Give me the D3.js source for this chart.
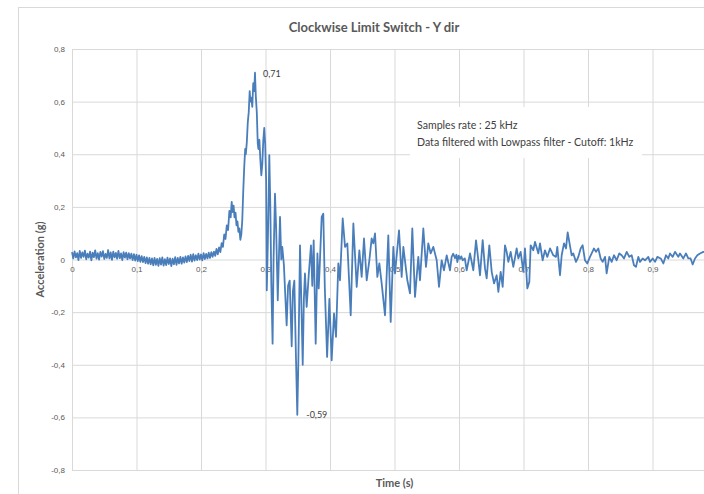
<!DOCTYPE html>
<html>
<head>
<meta charset="utf-8">
<script src="https://cdn.jsdelivr.net/npm/d3@7"></script>
<style>
  body { margin: 0; background: #fff; }
  svg { display: block; font-family: Lato, "Open Sans", sans-serif; }
  .grid line { stroke: #d9d9d9; stroke-width: 1; }
  .grid path { display: none; }
  .tick text { fill: #595959; font-size: 8px; }
  .line { fill: none; stroke: #4a7ebb; stroke-width: 1.8; stroke-linejoin: round; }
</style>
</head>
<body>
<div id="chart"></div>
<script>
// acceleration trace, Y direction
const chartTitle = "Clockwise Limit Switch - Y dir";
const xAxisTitle = "Time (s)";
const yAxisTitle = "Acceleration (g)";
const noteLines = ["Samples rate : 25 kHz", "Data filtered with Lowpass filter - Cutoff: 1kHz"];

const xGrid = [0, 0.1, 0.2, 0.3, 0.4, 0.5, 0.6, 0.7, 0.8, 0.9, 1];
const xTicks = [0, 0.1, 0.2, 0.3, 0.4, 0.5, 0.6, 0.7, 0.8, 0.9];   // "1" falls outside the window
const yTicks = [-0.8, -0.6, -0.4, -0.2, 0, 0.2, 0.4, 0.6, 0.8];

// quiet part before the switch hits, one reading every 2 ms
const quietStart = 0, quietStep = 0.002;
const quietValues = [
  0.028, 0.004, 0.031, 0.008, 0.024, -0.002, 0.033, 0.006, 0.027, 0.010,
  0.034, 0.001, 0.022, 0.007, 0.030, -0.003, 0.026, 0.009, 0.035, 0.003,
  0.024, 0.000, 0.029, 0.011, 0.032, 0.002, 0.021, 0.006, 0.036, 0.004,
  0.027, -0.001, 0.030, 0.008, 0.025, 0.003, 0.033, 0.005, 0.023, -0.002,
  0.028, 0.007, 0.026, 0.001, 0.024, 0.004,
  0.022, -0.002, 0.020, -0.004, 0.018, -0.006, 0.016, -0.009, 0.013, -0.010,
  0.010, -0.014, 0.008, -0.016, 0.006,
  -0.018, 0.004, -0.022, 0.006, -0.020, 0.002, -0.024, 0.005, -0.019, 0.008,
  -0.023, 0.001, -0.021, 0.007, -0.017, 0.004, -0.025, 0.003, -0.018, 0.009,
  -0.020, 0.006, -0.015, 0.010, -0.016, 0.008, -0.012, 0.012,
  -0.010, 0.014, -0.006, 0.018, -0.008, 0.020, -0.004, 0.016, -0.002, 0.022,
  0.000, 0.019, -0.003, 0.024, 0.002, 0.021, 0.004, 0.026, 0.006, 0.028, 0.010,
  0.030, 0.014, 0.040, 0.020, 0.046, 0.028
];

// event part, turning points of the trace
const eventTimes = [
  0.232, 0.234, 0.236, 0.238, 0.240, 0.242, 0.244, 0.246, 0.2476, 0.249,
  0.2505, 0.252, 0.2535, 0.255, 0.2565, 0.258, 0.2595, 0.261, 0.2625, 0.264,
  0.2655, 0.267, 0.2685, 0.2695, 0.271, 0.2725, 0.274, 0.2755, 0.2765, 0.278,
  0.2795, 0.281, 0.2825, 0.2837, 0.285, 0.2865, 0.288, 0.289, 0.2905, 0.292,
  0.2935, 0.295, 0.2965, 0.2981, 0.2995, 0.301, 0.302, 0.3035, 0.305, 0.3059,
  0.3075, 0.309, 0.311, 0.3125, 0.3147, 0.3165, 0.319, 0.3225, 0.3245, 0.326,
  0.3285, 0.3328, 0.335, 0.3375, 0.3406, 0.3425, 0.3447, 0.3473, 0.3493, 0.351,
  0.3535, 0.355, 0.3577, 0.3595, 0.3612, 0.3638, 0.367, 0.3705, 0.3725, 0.3747,
  0.3778, 0.3805, 0.3825, 0.384, 0.3871, 0.3896, 0.392, 0.3955, 0.399, 0.4026,
  0.4062, 0.4093, 0.4129, 0.4155, 0.4197, 0.4233, 0.4269, 0.4321, 0.4362, 0.4414,
  0.4455, 0.4491, 0.4527, 0.4569, 0.461, 0.4646, 0.4672, 0.4698, 0.4734, 0.4765,
  0.4801, 0.4853, 0.4904, 0.4941, 0.4982, 0.5008, 0.507, 0.5111, 0.5137, 0.5199,
  0.524, 0.5276, 0.5318, 0.5369, 0.5395, 0.5447, 0.5488, 0.5524, 0.5561, 0.5602,
  0.5654, 0.569, 0.5731, 0.5767, 0.5809, 0.586, 0.5886, 0.591, 0.5938, 0.596,
  0.5974, 0.5995, 0.6016, 0.6035, 0.6057, 0.609, 0.6119, 0.6171, 0.6222, 0.6264,
  0.6300, 0.6326, 0.6367, 0.6403, 0.6429, 0.647, 0.6507, 0.6543, 0.6584, 0.661,
  0.6646, 0.6677, 0.6713, 0.6739, 0.6765, 0.6801, 0.6842, 0.6894, 0.692, 0.6956,
  0.6997, 0.7023, 0.7059, 0.709, 0.7111, 0.7152, 0.7178, 0.723, 0.7256, 0.7297,
  0.7333, 0.7369, 0.7411, 0.7462, 0.7504, 0.7524, 0.7566, 0.7592, 0.7628, 0.7659,
  0.7685, 0.771, 0.7747, 0.7772, 0.7814, 0.785, 0.7886, 0.7917, 0.7953, 0.7989,
  0.8031, 0.8057, 0.8093, 0.8124, 0.816, 0.8196, 0.8227, 0.8264, 0.8289, 0.833,
  0.8367, 0.8403, 0.8444, 0.8485, 0.8522, 0.8558, 0.86, 0.864, 0.8677, 0.8713,
  0.8744, 0.878, 0.8806, 0.8847, 0.8884, 0.8935, 0.8961, 0.9003, 0.9039, 0.9075,
  0.9127, 0.9168, 0.9209, 0.9245, 0.9271, 0.9313, 0.9349, 0.94, 0.9426, 0.9478,
  0.9519, 0.9555, 0.959, 0.9623, 0.9659, 0.9695, 0.9736, 0.9788, 0.985
];
const eventValues = [
  0.062, 0.048, 0.095, 0.078, 0.130, 0.112, 0.185, 0.160, 0.219, 0.180,
  0.205, 0.160, 0.178, 0.130, 0.145, 0.105, 0.118, 0.075, 0.095, 0.150,
  0.260, 0.350, 0.420, 0.400, 0.445, 0.520, 0.560, 0.640, 0.600, 0.615,
  0.580, 0.670, 0.640, 0.710, 0.620, 0.560, 0.440, 0.420, 0.455, 0.380,
  0.320, 0.360, 0.450, 0.500, 0.440, 0.300, -0.117, 0.050, 0.250, 0.397,
  0.200, -0.090, -0.320, 0.000, 0.250, 0.120, -0.155, 0.162, 0.000, 0.048,
  -0.020, -0.250, -0.100, -0.080, -0.330, -0.120, -0.080, -0.380, -0.590, -0.380,
  0.054, -0.100, -0.400, -0.150, -0.053, -0.180, -0.060, 0.054, -0.100, 0.073,
  -0.320, 0.023, -0.110, -0.030, 0.162, 0.174, -0.110, -0.370, -0.150, -0.383,
  -0.205, -0.294, -0.015, -0.079, 0.156, 0.048, 0.061, -0.212, 0.137, -0.104,
  0.035, -0.066, 0.080, -0.079, -0.003, 0.080, 0.061, 0.099, -0.066, -0.015,
  -0.091, -0.212, 0.092, -0.237, 0.048, -0.053, 0.111, -0.066, 0.048, -0.079,
  -0.129, 0.118, -0.142, 0.010, -0.079, 0.118, -0.028, 0.061, 0.023, 0.048,
  -0.003, -0.104, -0.003, -0.041, 0.016, -0.041, 0.010, 0.022, 0.005, 0.018,
  -0.010, 0.015, 0.002, 0.012, -0.003, 0.004, -0.041, 0.023, -0.041, 0.073,
  -0.003, -0.060, 0.074, -0.034, -0.072, 0.054, -0.047, -0.091, -0.060, -0.123,
  -0.047, -0.104, 0.054, 0.029, -0.009, 0.029, -0.028, 0.042, 0.004, 0.029,
  -0.047, 0.042, -0.110, -0.085, 0.054, 0.035, 0.067, 0.023, 0.061, -0.003,
  0.035, 0.010, 0.042, 0.016, 0.010, 0.048, -0.060, 0.016, 0.061, 0.042,
  0.103, 0.067, 0.016, 0.023, -0.009, 0.010, 0.042, 0.054, -0.003, -0.015,
  0.010, 0.023, 0.042, 0.029, 0.042, 0.004, -0.009, 0.010, -0.053, 0.010,
  -0.009, 0.016, -0.003, 0.023, 0.016, 0.004, 0.029, 0.010, 0.016, -0.022,
  -0.028, 0.010, -0.009, 0.004, -0.003, 0.010, -0.009, 0.004, -0.009, 0.010,
  0.004, -0.015, 0.016, 0.004, 0.023, 0.010, 0.029, 0.010, 0.023, 0.004,
  0.023, 0.004, 0.004, -0.019, 0.004, 0.016, 0.023, 0.029, 0.030
];

// annotated extremes
const peakLabels = [
  { t: 0.2837, v: 0.71, text: "0,71", dx: 8, dy: 4 },
  { t: 0.3493, v: -0.59, text: "-0,59", dx: 9, dy: 3 }
];

const width = 704, height = 494;
const margin = { top: 49, left: 72 };
const plotW = 645, plotH = 421;   // plot runs past the right edge of the window

let locale = d3.formatLocale({ decimal: ",", thousands: ".", grouping: [3], currency: ["", ""], minus: "-" });
let fmt = locale.format("~f");

let svg = d3.select("#chart").append("svg")
    .attr("width", width)
    .attr("height", height);

// chart area border
svg.append("rect")
    .attr("x", 18.5).attr("y", 7.5)
    .attr("width", 760).attr("height", 520)
    .attr("fill", "#fff")
    .attr("stroke", "#d9d9d9");

let x = d3.scaleLinear().domain([0, 1]).range([margin.left, margin.left + plotW]);
let y = d3.scaleLinear().domain([-0.8, 0.8]).range([margin.top + plotH, margin.top]);

// gridlines
svg.append("g")
    .attr("class", "grid")
    .attr("transform", "translate(0," + (margin.top + plotH) + ")")
    .call(d3.axisBottom(x).tickValues(xGrid).tickSize(-plotH).tickFormat(""));
svg.append("g")
    .attr("class", "grid")
    .attr("transform", "translate(" + margin.left + ",0)")
    .call(d3.axisLeft(y).tickValues(yTicks).tickSize(-plotW).tickFormat(""));

// y tick labels
svg.append("g")
    .attr("transform", "translate(" + (margin.left - 1) + ",0)")
    .call(d3.axisLeft(y).tickValues(yTicks).tickSize(0).tickPadding(6).tickFormat(fmt))
    .call(g => g.select(".domain").remove());

// x tick labels sit just under the zero line
svg.append("g")
    .attr("transform", "translate(0," + y(0) + ")")
    .call(d3.axisBottom(x).tickValues(xTicks).tickSize(0).tickPadding(7).tickFormat(fmt))
    .call(g => g.select(".domain").remove());

// note box covers the grid
let noteG = svg.append("g");
noteG.append("rect")
    .attr("x", 410).attr("y", 107)
    .attr("width", 232).attr("height", 51)
    .attr("fill", "#fff");
noteG.selectAll("text")
    .data(noteLines)
  .enter().append("text")
    .attr("x", 417)
    .attr("y", (d, i) => 129 + i * 16.5)
    .attr("fill", "#404040")
    .style("font-size", "10.6px")
    .text(d => d);

// build the trace
let points = quietValues.map((v, i) => ({ t: quietStart + i * quietStep, v: v }));
eventTimes.forEach((t, i) => points.push({ t: t, v: eventValues[i] }));

let line = d3.line()
    .x(d => x(d.t))
    .y(d => y(d.v));

svg.append("path")
    .datum(points)
    .attr("class", "line")
    .attr("d", line);

// peak labels
svg.selectAll(".peak")
    .data(peakLabels)
  .enter().append("text")
    .attr("class", "peak")
    .attr("x", d => x(d.t) + d.dx)
    .attr("y", d => y(d.v) + d.dy)
    .attr("fill", "#404040")
    .style("font-size", "9px")
    .text(d => d.text);

// titles
svg.append("text")
    .attr("x", 374)
    .attr("y", 32)
    .attr("text-anchor", "middle")
    .attr("fill", "#595959")
    .style("font-size", "13px")
    .style("font-weight", "bold")
    .text(chartTitle);

svg.append("text")
    .attr("x", margin.left + plotW / 2)
    .attr("y", 487)
    .attr("text-anchor", "middle")
    .attr("fill", "#595959")
    .style("font-size", "11px")
    .style("font-weight", "bold")
    .text(xAxisTitle);

svg.append("text")
    .attr("transform", "rotate(-90)")
    .attr("x", -(margin.top + plotH / 2))
    .attr("y", 44)
    .attr("text-anchor", "middle")
    .attr("fill", "#595959")
    .style("font-size", "11px")
    .style("font-weight", "bold")
    .text(yAxisTitle);
</script>
</body>
</html>
